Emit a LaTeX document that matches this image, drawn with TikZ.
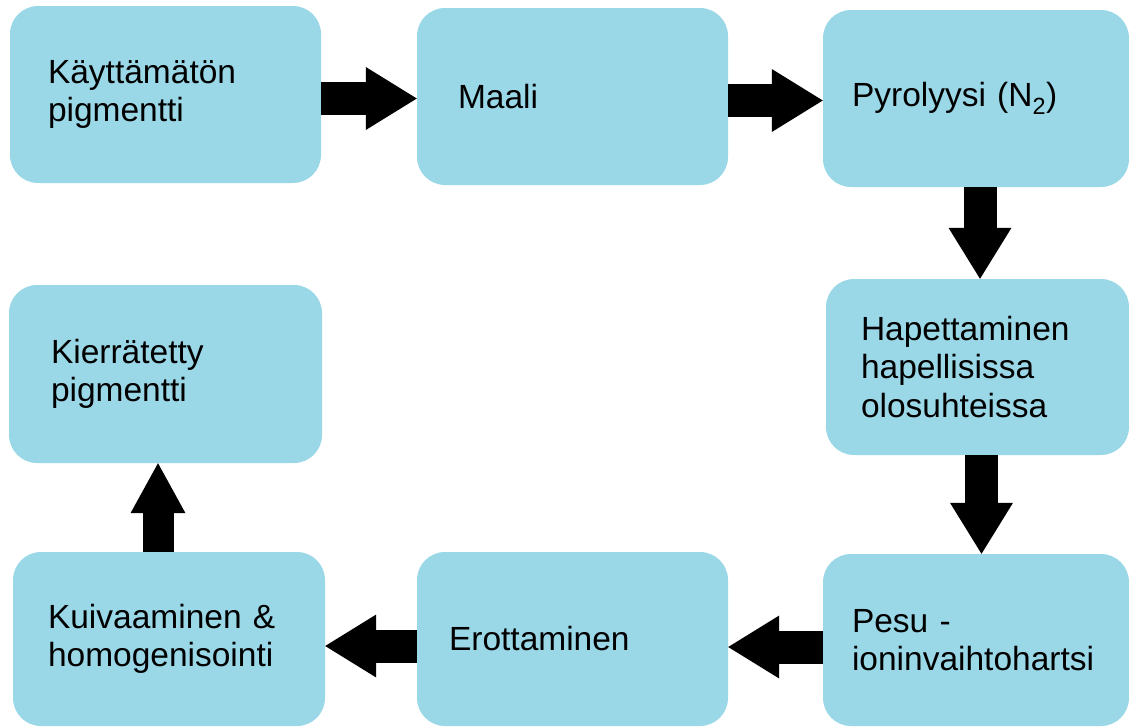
\documentclass[tikz,border=0pt]{standalone}
\usepackage{fontspec}
\setmainfont{Liberation Sans}
\usetikzlibrary{arrows.meta}
\definecolor{vaaleansininen}{HTML}{9AD8E8}
\tikzset{
  vaihe/.style={fill=vaaleansininen, rounded corners=28pt, align=left, inner ysep=0pt,
    font=\fontsize{33.5}{38.5}\selectfont},
  nuoli/.style={line width=33pt, -{Triangle[width=63pt,length=51pt,line width=0pt]}}
}
\begin{document}
\begin{tikzpicture}[x=1pt,y=-1pt]
			\useasboundingbox (0,0) rectangle (1129,726);
			% ylarivi
			\node[vaihe, inner xsep=38pt, text width=235pt, minimum height=177pt] (kayttamaton) at (165.5,94.5) {Käyttämätön\\pigmentti};
			\node[vaihe, inner xsep=41pt, text width=229pt, minimum height=177pt] (maali) at (572.5,96.5) {Maali};
			\node[vaihe, inner xsep=29pt, text width=248pt, minimum height=177pt] (pyrolyysi) at (976,98.5) {Pyrolyysi (N\textsubscript{2})};
			% oikea reuna
			\node[vaihe, inner xsep=35pt, text width=233pt, minimum height=176pt] (hapettaminen) at (977.5,367) {Hapettaminen\\hapellisissa\\olosuhteissa};
			\node[vaihe, inner xsep=29pt, text width=248pt, minimum height=172pt] (pesu) at (976,640) {Pesu -\\ioninvaihtohartsi};
			% alarivi
			\node[vaihe, inner xsep=32pt, text width=247pt, minimum height=174pt] (erottaminen) at (572.5,639) {Erottaminen};
			\node[vaihe, inner xsep=35pt, text width=242pt, minimum height=174pt] (kuivaaminen) at (169,639) {Kuivaaminen \&\\homogenisointi};
			\node[vaihe, inner xsep=42pt, text width=229pt, minimum height=178pt] (kierratetty) at (165.5,374) {Kierrätetty\\pigmentti};
			% nuolet
			\draw[nuoli] ([yshift=-4pt]kayttamaton.east) -- ([yshift=-4pt]kayttamaton.east -| maali.west);
			\draw[nuoli] ([yshift=-4pt]maali.east) -- ([yshift=-4pt]maali.east -| pyrolyysi.west);
			\draw[nuoli] ([xshift=4pt]pyrolyysi.south) -- ([xshift=4pt]pyrolyysi.south |- hapettaminen.north);
			\draw[nuoli] ([xshift=4pt]hapettaminen.south) -- ([xshift=4pt]hapettaminen.south |- pesu.north);
			\draw[nuoli] ([yshift=-7pt]pesu.west) -- ([yshift=-7pt]pesu.west -| erottaminen.east);
			\draw[nuoli] ([yshift=-7pt]erottaminen.west) -- ([yshift=-7pt]erottaminen.west -| kuivaaminen.east);
			\draw[line width=31pt, -{Triangle[width=55pt,length=50pt,line width=0pt]}] ([xshift=-11pt]kuivaaminen.north) -- ([xshift=-11pt]kuivaaminen.north |- kierratetty.south);
		\end{tikzpicture}
\end{document}
